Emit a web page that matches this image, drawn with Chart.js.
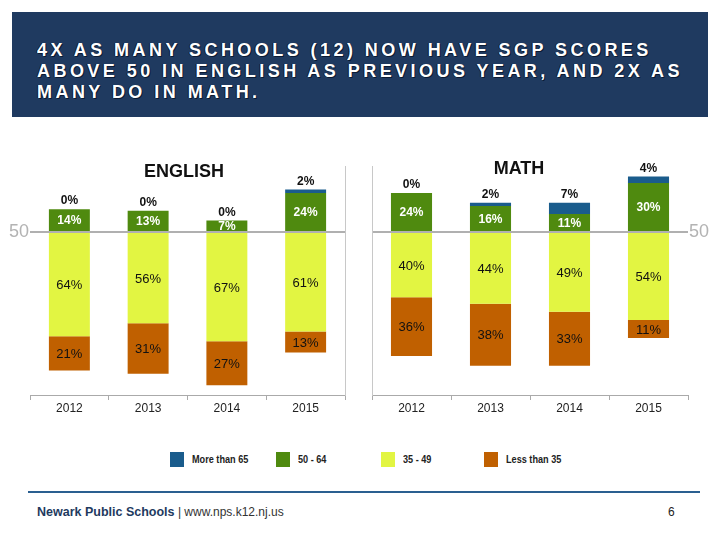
<!DOCTYPE html>
<html>
<head>
<meta charset="utf-8">
<script src="https://cdn.jsdelivr.net/npm/chart.js@4.4.1/dist/chart.umd.min.js"></script>
<style>
  html, body { margin:0; padding:0; background:#fff; }
  #page { position:relative; width:720px; height:540px; overflow:hidden; font-family: Arial, "Liberation Sans", sans-serif; }
  #header { position:absolute; left:12px; top:12px; width:696px; height:105px; background:#1F3A60; }
  #header div { position:absolute; left:25px; top:28px; color:#fff; font-weight:bold; font-size:18px; line-height:21px; letter-spacing:3.45px; white-space:nowrap; text-shadow:1px 1px 0 #0b1a33, -1px 0 0 #0b1a33; }
  canvas { position:absolute; }
  .ctitle { position:absolute; font-weight:bold; font-size:18px; color:#111; transform:translate(-50%,-50%); white-space:nowrap; }
  .lg-box { position:absolute; width:14px; height:15px; top:452px; box-sizing:border-box; }
  .lg-txt { position:absolute; top:453px; font-family:"Liberation Sans Narrow","Arial Narrow",Arial,sans-serif; font-weight:bold; font-size:11px; color:#222; line-height:13px; white-space:nowrap; transform:scaleX(0.83); transform-origin:0 50%; }
  #fline { position:absolute; left:28px; top:491px; width:672px; height:2px; background:#2A5F90; }
  #ftxt { position:absolute; left:37px; top:505px; font-size:12px; white-space:nowrap; color:#333; }
  #ftxt b { color:#1E3A60; font-size:12.5px; }
  #pnum { position:absolute; left:668px; top:505px; font-size:12px; color:#222; }
</style>
</head>
<body>
<div id="page">
  <div id="header"><div>4X AS MANY SCHOOLS (12) NOW HAVE SGP SCORES<br>ABOVE 50 IN ENGLISH AS PREVIOUS YEAR, AND 2X AS<br>MANY DO IN MATH.</div></div>
  <canvas id="eng" width="360" height="265" style="left:0px;top:155px;"></canvas>
  <canvas id="math" width="360" height="265" style="left:360px;top:155px;"></canvas>
  <div class="ctitle" style="left:184px;top:171px;">ENGLISH</div>
  <div class="ctitle" style="left:519px;top:168px;">MATH</div>
  <div id="legend"></div>
  <div id="fline"></div>
  <div id="ftxt"><b>Newark Public Schools</b> | www.nps.k12.nj.us</div>
  <div id="pnum">6</div>
</div>
<script>
// ---- Data ----
const years = ['2012', '2013', '2014', '2015'];
const seriesNames = ['More than 65', '50 - 64', '35 - 49', 'Less than 35'];

const englishAbove65 = [0, 0, 0, 2];
const english50to64  = [14, 13, 7, 24];
const english35to49  = [64, 56, 67, 61];
const englishBelow35 = [21, 31, 27, 13];

const mathAbove65 = [0, 2, 7, 4];
const math50to64  = [24, 16, 11, 30];
const math35to49  = [40, 44, 49, 54];
const mathBelow35 = [36, 38, 33, 11];

const yTickValue = 0;        // the "50" divider line
const yTickLabel = '50';

// ---- Styles ----
const COLORS = { above65:'#1A5C8C', s50:'#4F8A0F', s35:'#E2F542', below35:'#C06000' };
const FONT = 'Arial, "Liberation Sans", sans-serif';

// legend (HTML)
(function(){
  const lg = document.getElementById('legend');
  const cols = [COLORS.above65, COLORS.s50, COLORS.s35, COLORS.below35];
  const boxX = [170, 276, 381, 484];
  seriesNames.forEach((n,i)=>{
    const b = document.createElement('div'); b.className='lg-box';
    b.style.left = boxX[i]+'px'; b.style.background = cols[i];
    lg.appendChild(b);
    const t = document.createElement('div'); t.className='lg-txt';
    t.style.left = (boxX[i]+22)+'px'; t.textContent = n;
    lg.appendChild(t);
  });
})();

const labelPlugin = {
  id: 'segLabels',
  afterDatasetsDraw(chart) {
    const ctx = chart.ctx;
    ctx.save();
    ctx.textAlign = 'center';
    ctx.textBaseline = 'middle';
    chart.data.datasets.forEach((ds, di) => {
      const meta = chart.getDatasetMeta(di);
      meta.data.forEach((el, i) => {
        const v = Math.abs(ds.data[i]);
        const txt = v + '%';
        if (ds.kind === 'above65') {
          ctx.font = 'bold 12px ' + FONT;
          ctx.fillStyle = '#111';
          ctx.fillText(txt, el.x, Math.min(el.y, el.base) - 8);
        } else if (ds.kind === 's50') {
          ctx.font = 'bold 12px ' + FONT;
          ctx.fillStyle = '#fff';
          ctx.fillText(txt, el.x, (el.y + el.base) / 2 + 1);
        } else {
          ctx.font = '13px ' + FONT;
          ctx.fillStyle = '#111';
          ctx.fillText(txt, el.x, (el.y + el.base) / 2 + 1);
        }
      });
    });
    ctx.restore();
  }
};

function makeDatasets(a65, a50, a35, b35) {
  return [
    { label: seriesNames[1], kind:'s50', data: a50, backgroundColor: COLORS.s50 },
    { label: seriesNames[0], kind:'above65', data: a65, backgroundColor: COLORS.above65 },
    { label: seriesNames[2], kind:'s35', data: a35.map(v => -v), backgroundColor: COLORS.s35 },
    { label: seriesNames[3], kind:'below35', data: b35.map(v => -v), backgroundColor: COLORS.below35 }
  ].map(d => Object.assign(d, { barPercentage: 0.52, categoryPercentage: 1.0, borderWidth: 0 }));
}

function makeChart(id, datasets, labelSide) {
  const dividerAxis = {
    type: 'linear', stacked: true, min: -100, max: 40,
    position: labelSide,
    afterBuildTicks: (axis) => { axis.ticks = [{ value: yTickValue }]; },
    afterFit: (axis) => { axis.width = labelSide === 'left' ? 30 : 32; },
    ticks: { callback: (v) => v === yTickValue ? yTickLabel : null, color:'#B3B3B3', font:{ family: FONT, size: 18 }, padding: 1 },
    grid: { color:'#B0B0B0', lineWidth: 2, drawTicks: false },
    border: { display: false }
  };
  const frameAxis = {
    type: 'linear', min: -100, max: 40,
    position: labelSide === 'left' ? 'right' : 'left',
    afterFit: (axis) => { axis.width = labelSide === 'left' ? 15 : 12; },
    ticks: { display: false },
    grid: { display: false, drawTicks: false },
    border: { display: true, color:'#C8C8C8', width: 1 }
  };
  return new Chart(document.getElementById(id), {
    type: 'bar',
    data: { labels: years, datasets },
    options: {
      responsive: false,
      animation: false,
      layout: { padding: { top: 7, bottom: 0, left: 0, right: 0 } },
      plugins: { legend: { display: false }, tooltip: { enabled: false } },
      scales: {
        x: {
          stacked: true,
          afterFit: (axis) => { axis.height = 25; },
          grid: { drawOnChartArea: false, drawTicks: true, tickLength: 5, color:'#AAAAAA', offset: true },
          border: { color:'#AAAAAA', width: 1 },
          ticks: { color:'#222', font: { family: FONT, size: 12 }, padding: 1 }
        },
        y: dividerAxis,
        yFrame: frameAxis
      }
    },
    plugins: [labelPlugin]
  });
}

makeChart('eng', makeDatasets(englishAbove65, english50to64, english35to49, englishBelow35), 'left');
makeChart('math', makeDatasets(mathAbove65, math50to64, math35to49, mathBelow35), 'right');
</script>
</body>
</html>
